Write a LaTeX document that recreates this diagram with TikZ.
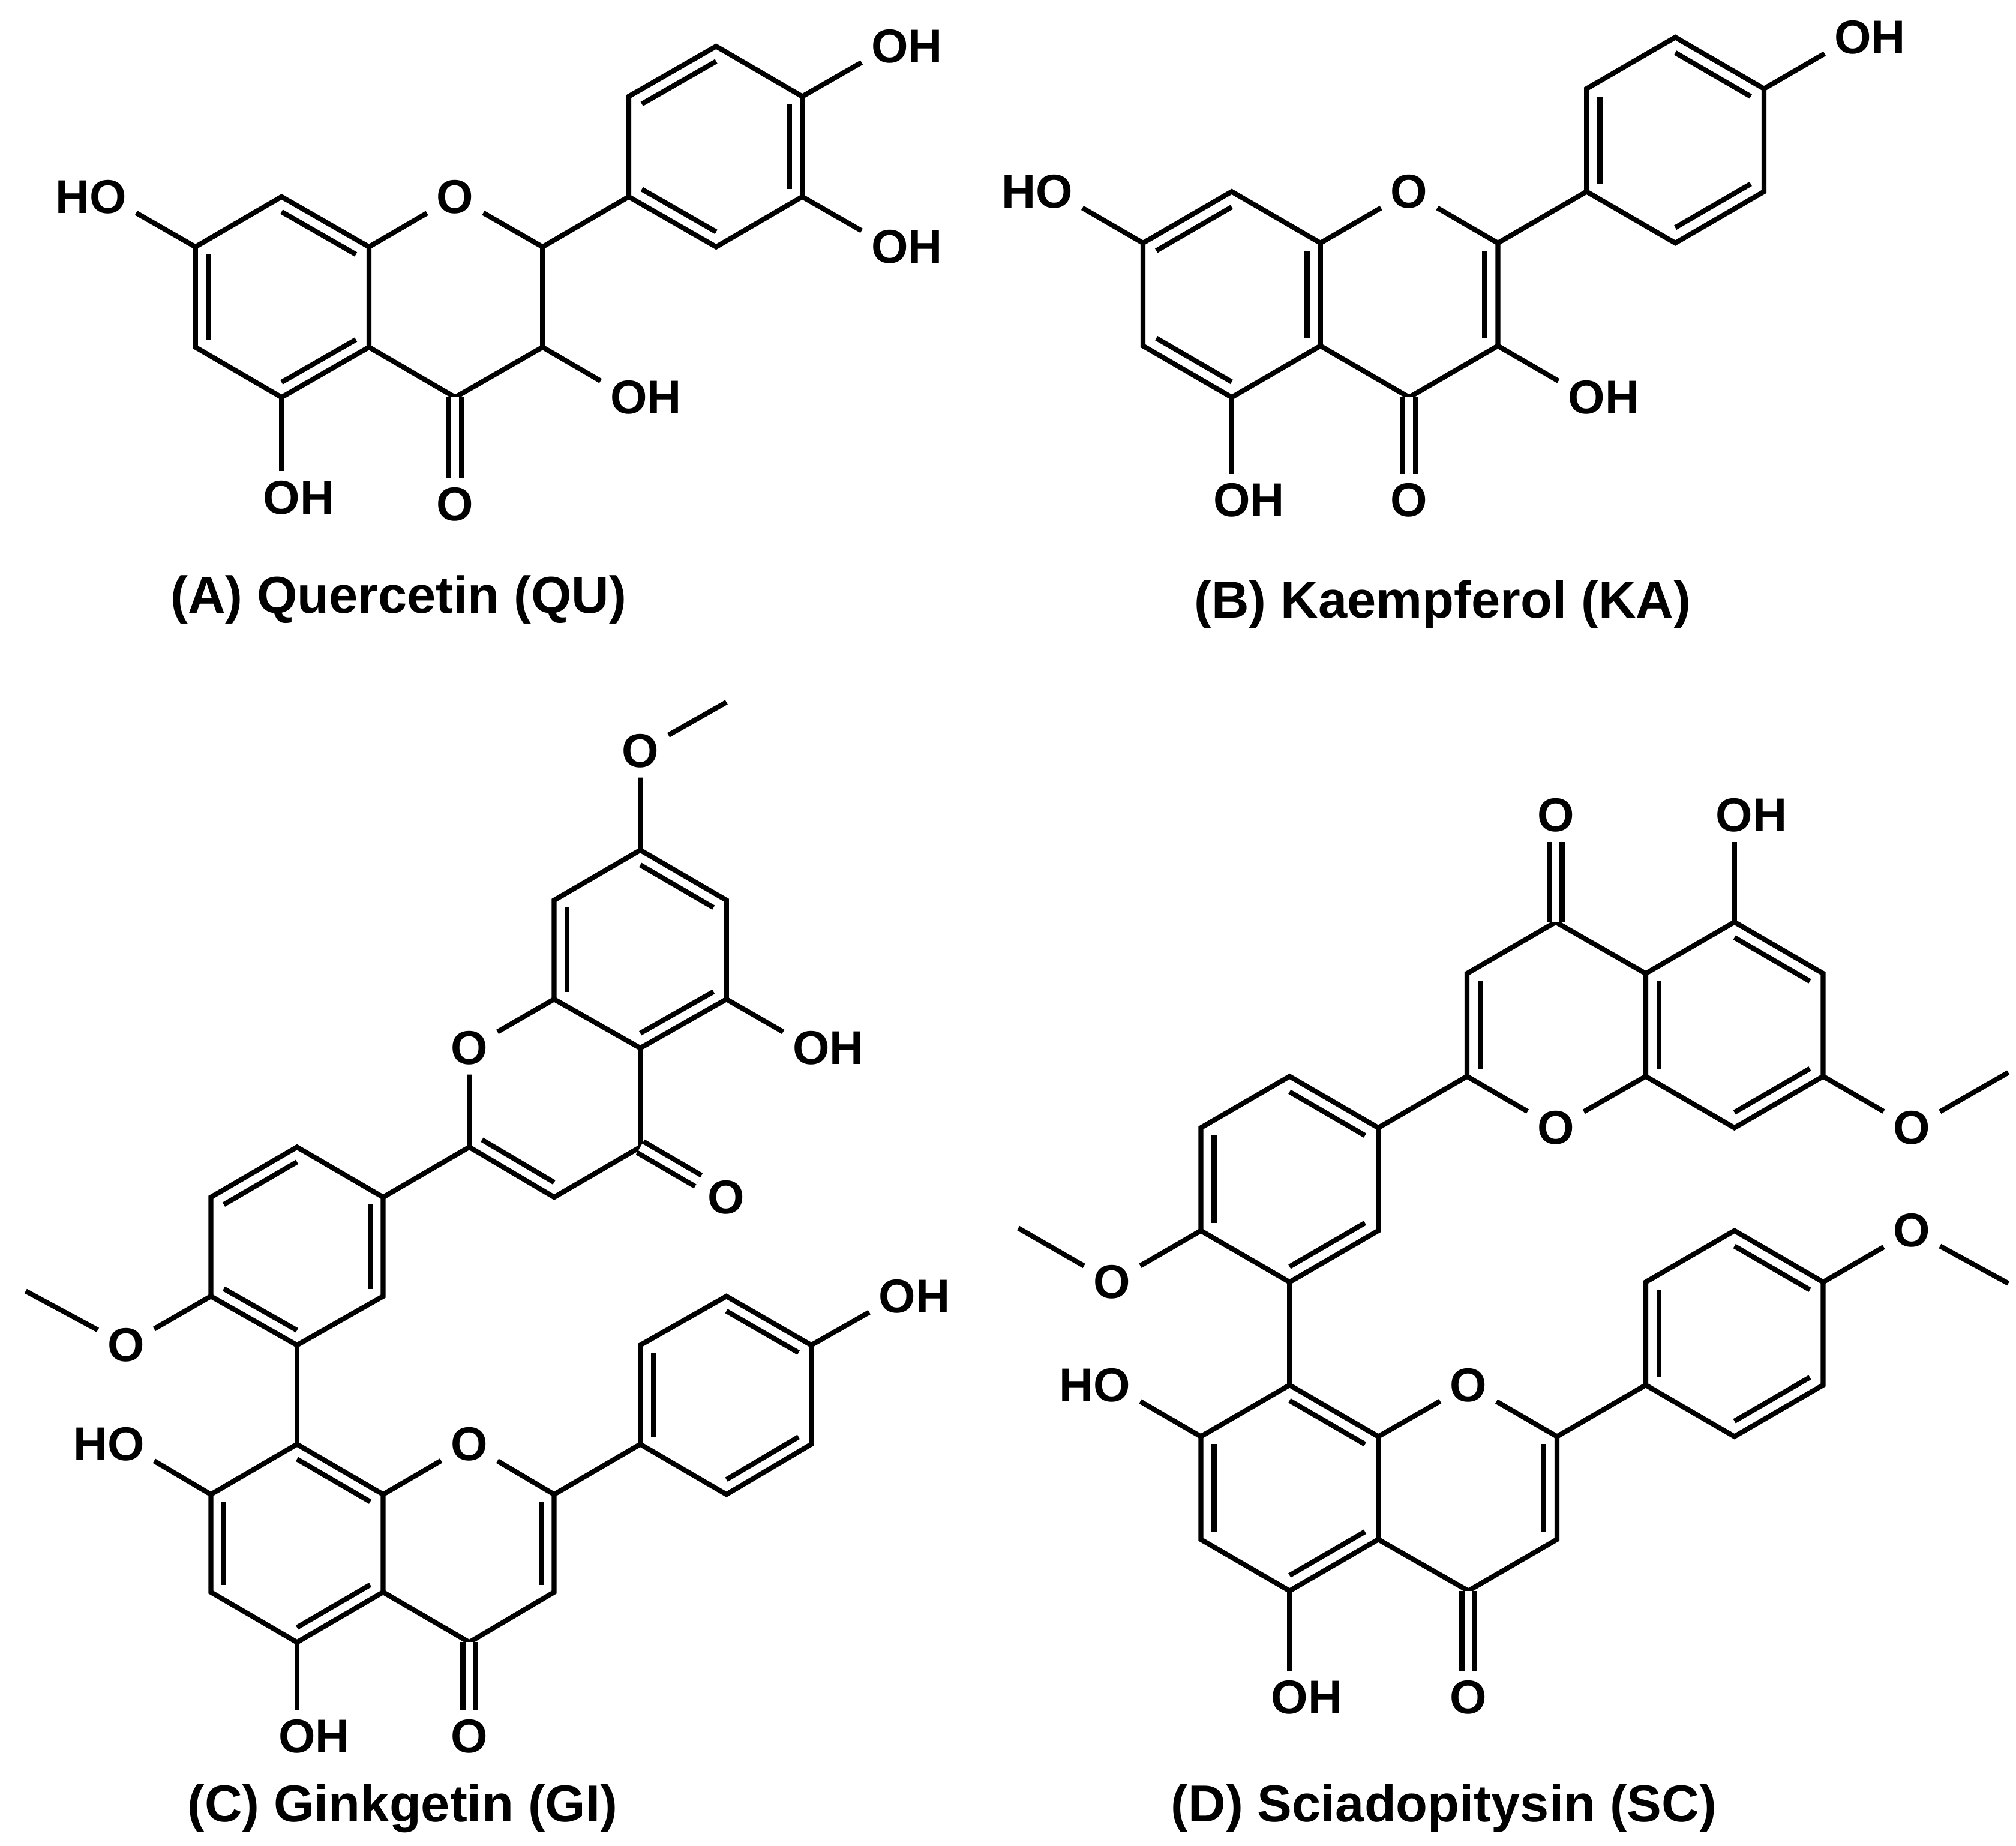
\documentclass[tikz,border=0pt]{standalone}
\usepackage{fontspec}
\setmainfont{Liberation Sans}
\usetikzlibrary{calc}
\newcommand\inr[3]{\draw ($(#1)!0.15!(#3)$) -- ($(#2)!0.15!(#3)$);}
\begin{document}
\begin{tikzpicture}[x=0.1mm,y=-0.1mm,line width=1.1pt,
  lab/.style={font=\bfseries\fontsize{10.5}{12}\selectfont,inner sep=1.6pt},
  ttl/.style={font=\bfseries\fontsize{11.5}{14}\selectfont},
  co/.style={double=white,double distance=0.6mm}]
\useasboundingbox (0,0) rectangle (1568,1435);
%%%%%%%%%% (A) Quercetin
\coordinate (qA) at (219,231); \coordinate (qC) at (354,231); \coordinate (qB) at (557,114);
\coordinate (qa1) at (219,153); \coordinate (qa2) at (287,192); \coordinate (qa3) at (287,270);
\coordinate (qa4) at (219,309); \coordinate (qa5) at (152,270); \coordinate (qa6) at (152,192);
\node[lab] (qO1) at (354,153) {O};
\coordinate (qc2) at (422,192); \coordinate (qc3) at (422,270); \coordinate (qc4) at (354,309);
\coordinate (qb1) at (489,153); \coordinate (qb2) at (489,75); \coordinate (qb3) at (557,36);
\coordinate (qb4) at (624,75); \coordinate (qb5) at (624,153); \coordinate (qb6) at (557,192);
\node[lab] (qL1) at (84,153) {\llap{H}O};
\node[lab] (qL2) at (692,36) {O\rlap{H}};
\node[lab] (qL3) at (692,192) {O\rlap{H}};
\node[lab] (qL4) at (489,309) {O\rlap{H}};
\node[lab] (qL5) at (219,387) {O\rlap{H}};
\node[lab] (qO4) at (354,392) {O};
\draw (qa1)--(qa2)--(qa3)--(qa4)--(qa5)--(qa6)--cycle;
\draw (qa2)--(qO1)--(qc2)--(qc3)--(qc4)--(qa3);
\draw (qb1)--(qb2)--(qb3)--(qb4)--(qb5)--(qb6)--cycle;
\draw (qc2)--(qb1);
\draw (qa6)--(qL1); \draw (qb4)--(qL2); \draw (qb5)--(qL3); \draw (qc3)--(qL4); \draw (qa4)--(qL5);
\draw[co] (qc4)--(qO4);
\inr{qa1}{qa2}{qA} \inr{qa3}{qa4}{qA} \inr{qa5}{qa6}{qA}
\inr{qb2}{qb3}{qB} \inr{qb4}{qb5}{qB} \inr{qb6}{qb1}{qB}
\node[ttl] (qT) at (310,466) {(A) Quercetin (QU)};
%%%%%%%%%% (B) Kaempferol
\coordinate (kA) at (958,229); \coordinate (kC) at (1096,229); \coordinate (kB) at (1303,109);
\coordinate (ka1) at (958,149); \coordinate (ka2) at (1027,189); \coordinate (ka3) at (1027,269);
\coordinate (ka4) at (958,309); \coordinate (ka5) at (889,269); \coordinate (ka6) at (889,189);
\node[lab] (kO1) at (1096,149) {O};
\coordinate (kc2) at (1165,189); \coordinate (kc3) at (1165,269); \coordinate (kc4) at (1096,309);
\coordinate (kb1) at (1234,149); \coordinate (kb2) at (1234,69); \coordinate (kb3) at (1303,29);
\coordinate (kb4) at (1372,69); \coordinate (kb5) at (1372,149); \coordinate (kb6) at (1303,189);
\node[lab] (kL1) at (820,149) {\llap{H}O};
\node[lab] (kL2) at (1441,29) {O\rlap{H}};
\node[lab] (kL4) at (1234,309) {O\rlap{H}};
\node[lab] (kL5) at (958,389) {O\rlap{H}};
\node[lab] (kO4) at (1096,389) {O};
\draw (ka1)--(ka2)--(ka3)--(ka4)--(ka5)--(ka6)--cycle;
\draw (ka2)--(kO1)--(kc2)--(kc3)--(kc4)--(ka3);
\draw (kb1)--(kb2)--(kb3)--(kb4)--(kb5)--(kb6)--cycle;
\draw (kc2)--(kb1);
\draw (ka6)--(kL1); \draw (kb4)--(kL2); \draw (kc3)--(kL4); \draw (ka4)--(kL5);
\draw[co] (kc4)--(kO4);
\inr{ka6}{ka1}{kA} \inr{ka2}{ka3}{kA} \inr{ka4}{ka5}{kA}
\inr{kc2}{kc3}{kC}
\inr{kb3}{kb4}{kB} \inr{kb1}{kb2}{kB} \inr{kb5}{kb6}{kB}
\node[ttl] (kT) at (1122,470) {(B) Kaempferol (KA)};
%%%%%%%%%% (C) Ginkgetin
% upper ring A'
\coordinate (gU) at (498,738);
\coordinate (gu1) at (431,777); \coordinate (gu2) at (431,700); \coordinate (gu3) at (498,661);
\coordinate (gu4) at (565,700); \coordinate (gu5) at (565,777); \coordinate (gu6) at (498,815);
% upper pyranone
\coordinate (gP) at (431,854);
\node[lab] (gpO) at (365,815) {O};
\coordinate (gp2) at (365,892); \coordinate (gp3) at (431,931); \coordinate (gp4) at (498,892);
\node[lab] (gO7) at (498,584) {O}; \coordinate (gM7) at (565,546);
\node[lab] (gL5) at (631,815) {O\rlap{H}};
\node[lab] (gO4) at (565,931) {O};
% B'
\coordinate (gB) at (231,969);
\coordinate (gb1) at (231,1046); \coordinate (gb2) at (298,1008); \coordinate (gb3) at (298,931);
\coordinate (gb4) at (231,892); \coordinate (gb5) at (164,931); \coordinate (gb6) at (164,1008);
\node[lab] (gOm) at (98,1046) {O}; \coordinate (gMm) at (20,1004);
% lower A''
\coordinate (gA) at (231,1200);
\coordinate (ga1) at (231,1123); \coordinate (ga2) at (298,1162); \coordinate (ga3) at (298,1238);
\coordinate (ga4) at (231,1277); \coordinate (ga5) at (164,1238); \coordinate (ga6) at (164,1162);
\coordinate (gC) at (365,1200);
\node[lab] (gcO) at (365,1123) {O};
\coordinate (gc2) at (431,1162); \coordinate (gc3) at (431,1238); \coordinate (gc4) at (365,1277);
\coordinate (gD) at (565,1085);
\coordinate (gd1) at (498,1123); \coordinate (gd2) at (498,1046); \coordinate (gd3) at (565,1008);
\coordinate (gd4) at (631,1046); \coordinate (gd5) at (631,1123); \coordinate (gd6) at (565,1162);
\node[lab] (gL7) at (98,1123) {\llap{H}O};
\node[lab] (gL5b) at (231,1350) {O\rlap{H}};
\node[lab] (gO4b) at (365,1350) {O};
\node[lab] (gL4d) at (698,1008) {O\rlap{H}};
\draw (gu1)--(gu2)--(gu3)--(gu4)--(gu5)--(gu6)--cycle;
\draw (gu1)--(gpO)--(gp2)--(gp3)--(gp4)--(gu6);
\draw (gu3)--(gO7)--(gM7);
\draw (gu5)--(gL5);
\draw[co] (gp4)--(gO4);
\draw (gb1)--(gb2)--(gb3)--(gb4)--(gb5)--(gb6)--cycle;
\draw (gb3)--(gp2);
\draw (gb6)--(gOm)--(gMm);
\draw (gb1)--(ga1);
\draw (ga1)--(ga2)--(ga3)--(ga4)--(ga5)--(ga6)--cycle;
\draw (ga2)--(gcO)--(gc2)--(gc3)--(gc4)--(ga3);
\draw (gd1)--(gd2)--(gd3)--(gd4)--(gd5)--(gd6)--cycle;
\draw (gc2)--(gd1);
\draw (ga6)--(gL7); \draw (ga4)--(gL5b); \draw (gd4)--(gL4d);
\draw[co] (gc4)--(gO4b);
\inr{gu1}{gu2}{gU} \inr{gu3}{gu4}{gU} \inr{gu5}{gu6}{gU}
\inr{gp2}{gp3}{gP}
\inr{gb5}{gb4}{gB} \inr{gb3}{gb2}{gB} \inr{gb6}{gb1}{gB}
\inr{ga1}{ga2}{gA} \inr{ga6}{ga5}{gA} \inr{ga4}{ga3}{gA}
\inr{gc2}{gc3}{gC}
\inr{gd1}{gd2}{gD} \inr{gd3}{gd4}{gD} \inr{gd5}{gd6}{gD}
\node[ttl] (gT) at (313,1406) {(C) Ginkgetin (GI)};
%%%%%%%%%% (D) Sciadopitysin
\coordinate (sP) at (1210,797);
\node[lab] (spO) at (1210,877) {O};
\coordinate (sp2) at (1141,837); \coordinate (sp3) at (1141,757); \coordinate (sp4) at (1210,717);
\coordinate (sU) at (1349,797);
\coordinate (su1) at (1280,757); \coordinate (su2) at (1349,717); \coordinate (su3) at (1418,757);
\coordinate (su4) at (1418,837); \coordinate (su5) at (1349,877); \coordinate (su6) at (1280,837);
\node[lab] (sO4) at (1210,634) {O};
\node[lab] (sL5) at (1349,634) {O\rlap{H}};
\node[lab] (sO7) at (1487,877) {O}; \coordinate (sM7) at (1562,834);
\coordinate (sB) at (1003,917);
\coordinate (sb1) at (1003,997); \coordinate (sb2) at (1072,957); \coordinate (sb3) at (1072,877);
\coordinate (sb4) at (1003,837); \coordinate (sb5) at (934,877); \coordinate (sb6) at (934,957);
\node[lab] (sOm) at (865,997) {O}; \coordinate (sMm) at (792,955);
\coordinate (sA) at (1003,1157);
\coordinate (sa1) at (1003,1077); \coordinate (sa2) at (1072,1117); \coordinate (sa3) at (1072,1197);
\coordinate (sa4) at (1003,1237); \coordinate (sa5) at (934,1197); \coordinate (sa6) at (934,1117);
\coordinate (sC) at (1142,1157);
\node[lab] (scO) at (1142,1077) {O};
\coordinate (sc2) at (1211,1117); \coordinate (sc3) at (1211,1197); \coordinate (sc4) at (1142,1237);
\coordinate (sD) at (1349,1037);
\coordinate (sd1) at (1280,1077); \coordinate (sd2) at (1280,997); \coordinate (sd3) at (1349,957);
\coordinate (sd4) at (1418,997); \coordinate (sd5) at (1418,1077); \coordinate (sd6) at (1349,1117);
\node[lab] (sOd) at (1487,957) {O}; \coordinate (sMd) at (1562,998);
\node[lab] (sL7) at (865,1077) {\llap{H}O};
\node[lab] (sL5b) at (1003,1320) {O\rlap{H}};
\node[lab] (sO4b) at (1142,1320) {O};
\draw (su1)--(su2)--(su3)--(su4)--(su5)--(su6)--cycle;
\draw (su1)--(sp4)--(sp3)--(sp2)--(spO)--(su6);
\draw[co] (sp4)--(sO4);
\draw (su2)--(sL5);
\draw (su4)--(sO7)--(sM7);
\draw (sp2)--(sb3);
\draw (sb1)--(sb2)--(sb3)--(sb4)--(sb5)--(sb6)--cycle;
\draw (sb6)--(sOm)--(sMm);
\draw (sb1)--(sa1);
\draw (sa1)--(sa2)--(sa3)--(sa4)--(sa5)--(sa6)--cycle;
\draw (sa2)--(scO)--(sc2)--(sc3)--(sc4)--(sa3);
\draw[co] (sc4)--(sO4b);
\draw (sa4)--(sL5b); \draw (sa6)--(sL7);
\draw (sc2)--(sd1);
\draw (sd1)--(sd2)--(sd3)--(sd4)--(sd5)--(sd6)--cycle;
\draw (sd4)--(sOd)--(sMd);
\inr{sp2}{sp3}{sP}
\inr{su1}{su6}{sU} \inr{su2}{su3}{sU} \inr{su4}{su5}{sU}
\inr{sb4}{sb3}{sB} \inr{sb5}{sb6}{sB} \inr{sb2}{sb1}{sB}
\inr{sa1}{sa2}{sA} \inr{sa6}{sa5}{sA} \inr{sa4}{sa3}{sA}
\inr{sc2}{sc3}{sC}
\inr{sd1}{sd2}{sD} \inr{sd3}{sd4}{sD} \inr{sd5}{sd6}{sD}
\node[ttl] (sT) at (1123,1406) {(D) Sciadopitysin (SC)};
\end{tikzpicture}
\end{document}
